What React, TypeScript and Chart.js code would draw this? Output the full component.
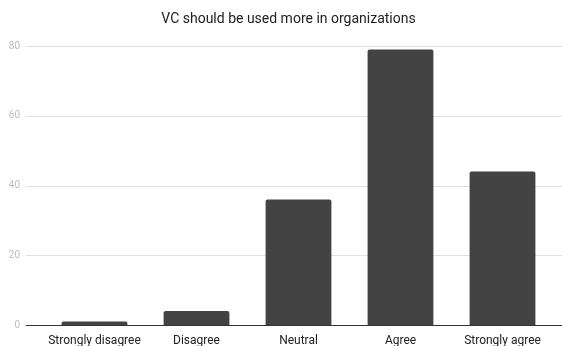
import React, { useEffect, useRef } from "react";
import { Chart, registerables } from "chart.js";

Chart.register(...registerables);

const categories = ["Strongly disagree", "Disagree", "Neutral", "Agree", "Strongly agree"];
const values = [1, 4, 36, 79, 44];
const yTicks = [0, 20, 40, 60, 80];
const title = "VC should be used more in organizations";

const gridPlugin = {
  id: "gridExt",
  afterLayout(chart: any) {
    const tb = chart.titleBlock;
    if (tb) {
      tb.left = 15;
      tb.right = chart.width;
      tb.width = tb.right - tb.left;
    }
  },
  beforeDatasetsDraw(chart: any) {
    const ctx = chart.ctx;
    const y = chart.scales.y;
    ctx.save();
    ctx.lineWidth = 1;
    ctx.strokeStyle = "#e0e0e0";
    for (const t of y.ticks) {
      if (t.value === 0) continue;
      const py = Math.round(y.getPixelForValue(t.value)) + 0.5;
      ctx.beginPath();
      ctx.moveTo(26, py);
      ctx.lineTo(chart.width, py);
      ctx.stroke();
    }
    ctx.restore();
  },
  afterDatasetsDraw(chart: any) {
    const ctx = chart.ctx;
    const y = chart.scales.y;
    const py = Math.round(y.getPixelForValue(0)) + 0.5;
    ctx.save();
    ctx.lineWidth = 1;
    ctx.strokeStyle = "#333333";
    ctx.beginPath();
    ctx.moveTo(26, py);
    ctx.lineTo(chart.width, py);
    ctx.stroke();
    ctx.restore();
  },
};

export default function App() {
  const ref = useRef<HTMLCanvasElement>(null);
  useEffect(() => {
    if (!ref.current) return;
    const chart = new Chart(ref.current, {
      type: "bar",
      data: {
        labels: categories,
        datasets: [
          {
            data: values,
            backgroundColor: "#434343",
            borderRadius: { topLeft: 2, topRight: 2, bottomLeft: 0, bottomRight: 0 },
            borderSkipped: "bottom",
            barPercentage: 0.645,
            categoryPercentage: 1,
          },
        ],
      },
      options: {
        responsive: false,
        animation: false,
        layout: { padding: { left: 0, right: 8.5, top: 0, bottom: 0 } },
        plugins: {
          legend: { display: false },
          tooltip: { enabled: false },
          title: {
            display: true,
            text: title,
            color: "#212121",
            font: { family: "Roboto", size: 14, weight: "normal" },
            padding: { top: 11, bottom: 18.2 },
          },
        },
        scales: {
          x: {
            offset: true,
            grid: { display: false, drawTicks: false },
            border: { display: false },
            ticks: {
              color: "#212121",
              font: { family: "Roboto", size: 12 },
              padding: 8.5,
              maxRotation: 0,
              autoSkip: false,
            },
            afterFit(scale: any) {
              scale.height = 21;
            },
          },
          y: {
            min: 0,
            max: 80,
            afterBuildTicks(scale: any) {
              scale.ticks = yTicks.map((v) => ({ value: v }));
            },
            grid: { display: false, drawTicks: false },
            border: { display: false },
            ticks: {
              color: "#bdbdbd",
              font: { family: "Roboto", size: 10 },
              padding: 23.5,
            },
            afterFit(scale: any) {
              scale.width = 43.5;
              scale.paddingTop = 6;
              scale.paddingBottom = 6;
            },
          },
        },
      },
      plugins: [gridPlugin],
    });
    return () => chart.destroy();
  }, []);
  return (
    <div style={{ position: "fixed", left: 0, top: 0, width: 562, height: 346, background: "#fff" }}>
      <canvas ref={ref} width={562} height={346} />
    </div>
  );
}
